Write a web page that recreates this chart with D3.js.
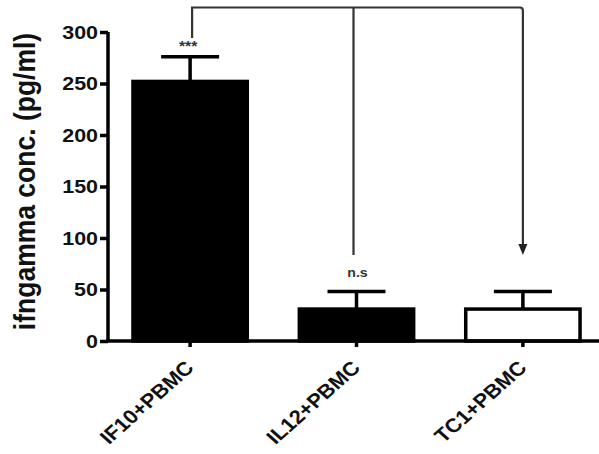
<!DOCTYPE html>
<html>
<head>
<meta charset="utf-8">
<script src="https://cdn.jsdelivr.net/npm/d3@7"></script>
<style>
  body { margin: 0; background: #fff; }
  svg { display: block; font-family: "Liberation Sans", Arial, sans-serif; }
  .axis path, .axis line { stroke: #000; stroke-width: 3.5px; }
  .axis text { font-weight: bold; fill: #111; }
</style>
</head>
<body>
<script>
// data
var groups = ["IF10+PBMC", "IL12+PBMC", "TC1+PBMC"];
var means = [252, 31, 31];
var errs = [24, 17, 17];
var fills = ["#000", "#000", "#fff"];
var yTicks = [0, 50, 100, 150, 200, 250, 300];
var marks = ["***", "n.s", ""];

var width = 599, height = 454;
var sx = 1.13; // the picture is a bit wider than tall, text too

var svg = d3.select("body").append("svg")
    .attr("width", width)
    .attr("height", height);

var x = d3.scaleBand().domain(groups)
    .range([108, 605])
    .paddingInner(0.313)
    .paddingOuter(0.15);
var y = d3.scaleLinear().domain([0, 300]).range([341, 32]);

// bars
svg.selectAll("rect.bar")
    .data(groups)
    .enter().append("rect")
    .attr("class", "bar")
    .attr("x", function(d) { return x(d); })
    .attr("y", function(d, i) { return y(means[i]); })
    .attr("width", x.bandwidth())
    .attr("height", function(d, i) { return y(0) - y(means[i]); })
    .style("fill", function(d, i) { return fills[i]; })
    .style("stroke", "#000")
    .style("stroke-width", "3.5px");

// error bars (upper only)
var capW = 29;
groups.forEach(function(d, i) {
  var cx = x(d) + x.bandwidth() / 2;
  svg.append("line")
      .attr("x1", cx).attr("x2", cx)
      .attr("y1", y(means[i])).attr("y2", y(means[i] + errs[i]))
      .style("stroke", "#000").style("stroke-width", "3.5px");
  svg.append("line")
      .attr("x1", cx - capW).attr("x2", cx + capW)
      .attr("y1", y(means[i] + errs[i])).attr("y2", y(means[i] + errs[i]))
      .style("stroke", "#000").style("stroke-width", "3.5px");
});

// axes
var ya = svg.append("g")
    .attr("class", "axis")
    .attr("transform", "translate(108,0)")
    .call(d3.axisLeft(y).tickValues(yTicks).tickSize(8).tickSizeOuter(0).tickPadding(1));
ya.select(".domain").attr("d", "M0," + y(300) + "V" + y(0));
ya.selectAll(".tick text")
    .style("font-size", "19px")
    .attr("x", null)
    .attr("transform", "translate(-10,0) scale(" + sx + ",1)");

var xa = svg.append("g")
    .attr("class", "axis")
    .attr("transform", "translate(0," + y(0) + ")")
    .call(d3.axisBottom(x).tickSize(6).tickSizeOuter(0));
xa.select(".domain").attr("d", "M106,0H599");
xa.selectAll(".tick text")
    .style("font-size", "19.5px")
    .style("text-anchor", "end")
    .attr("y", 0)
    .attr("dy", "0")
    .attr("transform", "translate(5,28) scale(" + sx + ",1) rotate(-45)");

// y axis label
svg.append("text")
    .attr("transform", "translate(35,181.5) scale(" + sx + ",1) rotate(-90)")
    .attr("text-anchor", "middle")
    .style("font-size", "26.5px")
    .style("font-weight", "bold")
    .style("fill", "#111")
    .text("ifngamma conc. (pg/ml)");

// significance bracket
var c0 = x(groups[0]) + x.bandwidth() / 2 + 2,
    c1 = x(groups[1]) + x.bandwidth() / 2 - 3,
    c2 = x(groups[2]) + x.bandwidth() / 2;
var topY = 7.5;
svg.append("path")
    .attr("d", "M" + c0 + ",38V" + topY + "H" + (c2 - 3) + "Q" + c2 + "," + topY + " " + c2 + "," + (topY + 3) + "V245")
    .style("fill", "none").style("stroke", "#333").style("stroke-width", "2.2px");
svg.append("line")
    .attr("x1", c1).attr("x2", c1).attr("y1", topY).attr("y2", 255)
    .style("stroke", "#333").style("stroke-width", "2.2px");
svg.append("path")
    .attr("d", "M" + (c2 - 4.5) + ",244L" + (c2 + 4.5) + ",244L" + c2 + ",255Z")
    .style("fill", "#222");

svg.selectAll("text.mark")
    .data(marks)
    .enter().append("text")
    .attr("class", "mark")
    .attr("transform", function(d, i) {
      var px = x(groups[i]) + x.bandwidth() / 2 + (i == 0 ? -2 : 1);
      return "translate(" + px + "," + (i == 0 ? 51 : 277) + ") scale(" + sx + ",1)";
    })
    .attr("text-anchor", "middle")
    .style("font-size", function(d, i) { return i == 0 ? "14px" : "12.5px"; })
    .style("font-weight", "bold")
    .style("fill", "#333")
    .text(function(d) { return d; });
</script>
</body>
</html>
